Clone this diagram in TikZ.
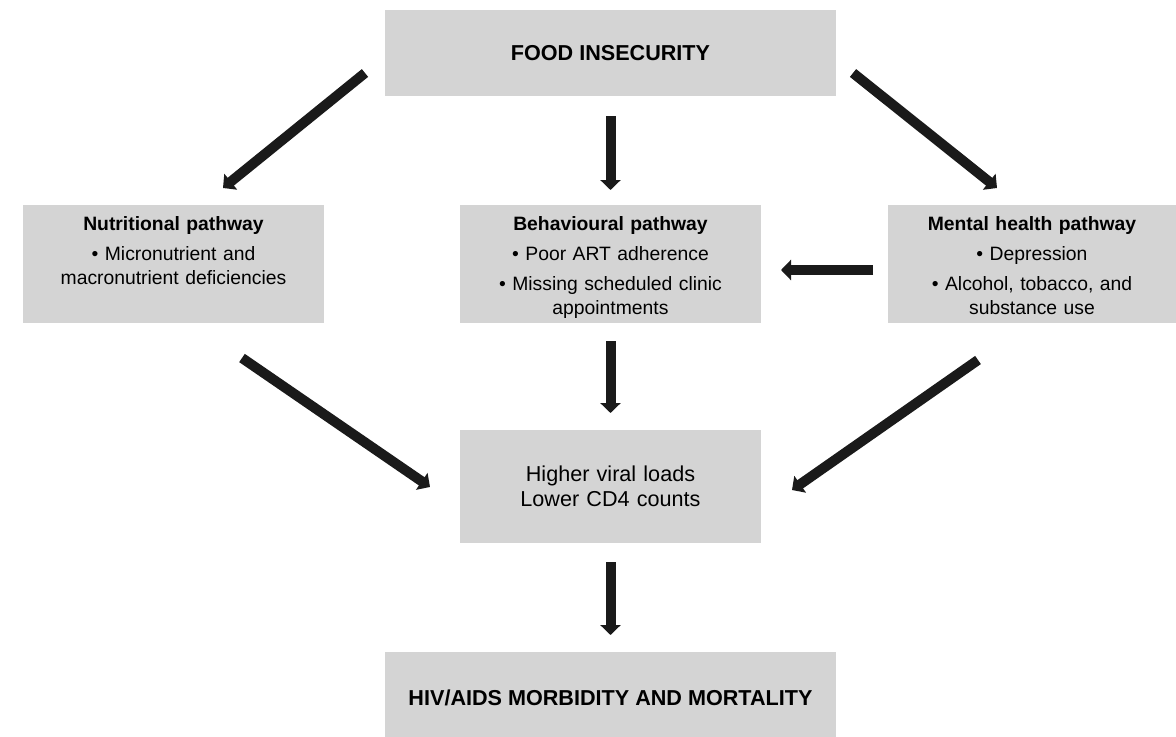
\documentclass[tikz,border=0pt]{standalone}
\usepackage{fontspec}
\setmainfont{Liberation Sans}
\usetikzlibrary{matrix,calc,arrows.meta}
\definecolor{boxgray}{RGB}{212,212,212}
\definecolor{arrowblack}{RGB}{26,26,26}
\begin{document}
\begin{tikzpicture}[x=0.75pt,y=0.75pt,
wide/.style={
% The shape:
rectangle,
fill=boxgray,
inner sep=0pt, outer sep=0pt,
minimum width=338.25pt,
minimum height=#1,
font=\fontsize{16.2}{18.75}\selectfont\bfseries
},
pathway/.style={
rectangle,
fill=boxgray,
inner sep=0pt, outer sep=0pt,
text width=#1,
align=center,
text height=18.75pt,
text depth=69.75pt,
font=\fontsize{14.5}{18}\selectfont
},
result/.style={
rectangle,
fill=boxgray,
inner sep=0pt, outer sep=0pt,
text width=225.75pt,
align=center,
minimum height=84.75pt,
font=\fontsize{16.2}{18.75}\selectfont
},
flow/.style={
draw=arrowblack,
line width=7.5pt,
-{Triangle[width=15pt,length=7.5pt]}
}
]
\matrix (m) [row sep=0pt, column sep=0pt, inner sep=0pt, outer sep=0pt] {
% First row:
&[45.75pt] \node (food) [wide=64.5pt] {FOOD INSECURITY}; &[39pt] \\[81.75pt]
% Pathways:
\node (nutri) [pathway=225.75pt] {\textbf{Nutritional pathway}\\[4.6pt] • Micronutrient and\\ macronutrient deficiencies}; &[45.75pt]
\node (behav) [pathway=225.75pt] {\textbf{Behavioural pathway}\\[4.6pt] • Poor ART adherence\\[4.8pt] • Missing scheduled clinic\\ appointments}; &[39pt]
\node (mental) [pathway=216pt] {\textbf{Mental health pathway}\\[4.6pt] • Depression\\[4.8pt] • Alcohol, tobacco, and\\ substance use}; \\[80.25pt]
&[45.75pt] \node (viral) [result] {Higher viral loads\\ Lower CD4 counts}; &[39pt] \\[81.75pt]
&[45.75pt] \node (hiv) [wide=69pt] {HIV/AIDS MORBIDITY AND MORTALITY}; &[39pt] \\
};
\pgfresetboundingbox
\path[use as bounding box] ($(nutri.west |- food.north)+(-23,10)$) rectangle ($(mental.east |- hiv.north)+(0,-84)$);

\draw[flow] ($(food.west)+(-20,-20)$) -- ($(nutri.north)+(49.5,17)$);
\draw[flow] ($(food.south)+(0,-20)$) -- ($(behav.north)+(0,15)$);
\draw[flow] ($(food.east)+(17,-20)$) -- ($(mental.north)+(-35,17)$);
\draw[flow] ($(mental.west)+(-15,-6)$) -- ($(behav.east)+(20,-6)$);

\path ($(nutri.south)+(68.5,-35)$) edge[flow] ($(viral.west)+(-30,-0.5)$);
\path ($(behav.south)+(0,-18)$) edge[flow] ($(viral.north)+(0,17)$);
\path ($(mental.south)+(-54,-37)$) edge[flow] ($(viral.east)+(31,-3.5)$);
\draw[flow] ($(viral.south)+(0,-19)$) -- ($(hiv.north)+(0,17)$);
\end{tikzpicture}
\end{document}
